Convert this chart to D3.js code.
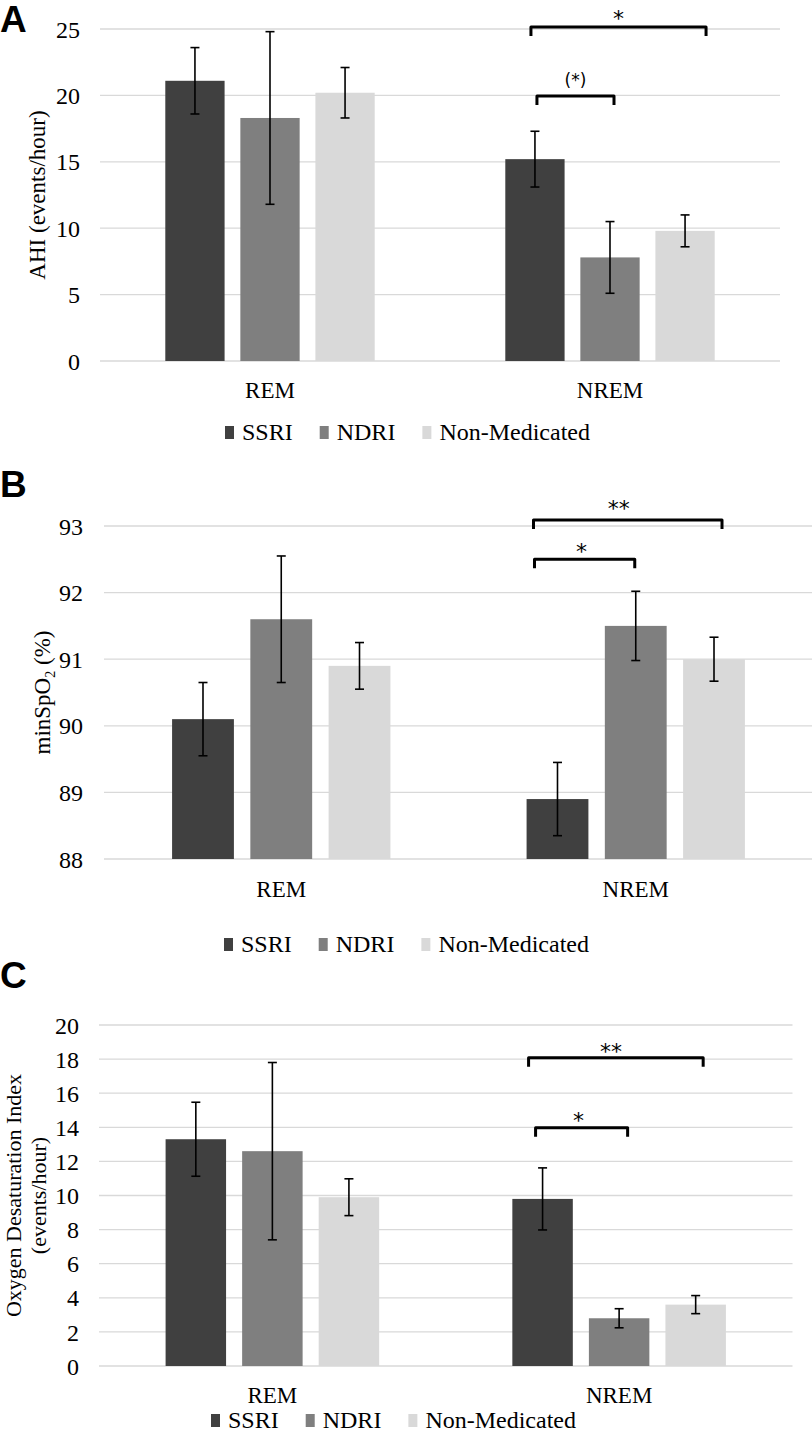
<!DOCTYPE html>
<html>
<head>
<meta charset="utf-8">
<script src="https://cdn.jsdelivr.net/npm/d3@7"></script>
<style>
  body { margin: 0; background: #fff; }
</style>
</head>
<body>
<div id="main"></div>
<script>
// categories and groups
const stages = ["REM", "NREM"];
const groups = ["SSRI", "NDRI", "Non-Medicated"];
const colors = ["#404040", "#7f7f7f", "#d9d9d9"];

// panel A - AHI (events/hour), rows = stage, cols = group
const ahiMean = [[21.1, 18.3, 20.2], [15.2, 7.8, 9.8]];
const ahiErr  = [[2.5, 6.5, 1.9], [2.1, 2.7, 1.2]];
const ahiTicks = [0, 5, 10, 15, 20, 25];

// panel B - minSpO2 (%)
const spoMean = [[90.1, 91.6, 90.9], [88.9, 91.5, 91.0]];
const spoErr  = [[0.55, 0.95, 0.35], [0.55, 0.52, 0.33]];
const spoTicks = [88, 89, 90, 91, 92, 93];

// panel C - oxygen desaturation index
const odiMean = [[13.3, 12.6, 9.9], [9.8, 2.8, 3.6]];
const odiErr  = [[2.17, 5.2, 1.08], [1.82, 0.56, 0.53]];
const odiTicks = [0, 2, 4, 6, 8, 10, 12, 14, 16, 18, 20];

// significance brackets (y in data units)
const ahiSig = [
  {stage: "NREM", from: "SSRI", to: "Non-Medicated", y: 25.15, label: "*"},
  {stage: "NREM", from: "SSRI", to: "NDRI", y: 19.95, label: "(*)"}
];
const spoSig = [
  {stage: "NREM", from: "SSRI", to: "Non-Medicated", y: 93.09, label: "**"},
  {stage: "NREM", from: "SSRI", to: "NDRI", y: 92.5, label: "*"}
];
const odiSig = [
  {stage: "NREM", from: "SSRI", to: "Non-Medicated", y: 18.08, label: "**"},
  {stage: "NREM", from: "SSRI", to: "NDRI", y: 13.98, label: "*"}
];

const W = 812, H = 1433;
const SERIF = '"Liberation Serif", "Times New Roman", serif';

const svg = d3.select('#main').append('svg')
  .attr('width', W).attr('height', H)
  .attr('font-family', SERIF);

function drawPanel(p){
  const g = svg.append('g');

  // panel letter
  g.append('text').text(p.letter)
    .attr('x', 0).attr('y', p.letterY)
    .style('font-family', '"Liberation Sans", Arial, sans-serif')
    .style('font-weight', 'bold').style('font-size', '37px');

  const yScale = d3.scaleLinear().domain(p.domain).range([p.yBot, p.yTop]);
  const xScale = d3.scaleBand().domain(stages).range([p.x0, p.x1]);
  const xInner = d3.scaleBand().domain(groups).range([0, xScale.bandwidth()])
    .paddingInner(0.21).paddingOuter(0.87);

  // gridlines
  g.append('g').selectAll('line').data(p.ticks).enter().append('line')
    .attr('x1', p.x0).attr('x2', p.x1)
    .attr('y1', d => yScale(d)).attr('y2', d => yScale(d))
    .attr('stroke', '#d9d9d9').attr('stroke-width', 1.3);

  // y axis labels
  const yAxis = d3.axisLeft(yScale).tickValues(p.ticks).tickFormat(d3.format('d'))
    .tickSize(0).tickPadding(0);
  const ya = g.append('g').attr('transform', 'translate(' + p.labelX + ',0)').call(yAxis)
    .attr('font-family', SERIF).attr('font-size', 24);
  ya.select('.domain').remove();
  ya.selectAll('text').attr('dy', '0.34em').attr('fill', '#000')
    .style('font-family', SERIF).style('font-size', '24px');

  // x axis labels
  const xAxis = d3.axisBottom(xScale).tickSize(0).tickPadding(0);
  const xa = g.append('g').attr('transform', 'translate(0,' + p.catY + ')').call(xAxis)
    .attr('font-family', SERIF).attr('font-size', 23);
  xa.select('.domain').remove();
  xa.selectAll('text').attr('dy', 0).attr('y', 0).attr('fill', '#000')
    .style('font-family', SERIF).style('font-size', '23px');

  // bars
  const rows = [];
  stages.forEach((s, i) => groups.forEach((gr, j) => {
    rows.push({stage: s, group: gr, mean: p.mean[i][j], err: p.err[i][j], c: colors[j]});
  }));
  const bx = d => xScale(d.stage) + xInner(d.group);
  const bw = xInner.bandwidth();

  g.append('g').selectAll('rect').data(rows).enter().append('rect')
    .attr('x', bx).attr('width', bw)
    .attr('y', d => yScale(d.mean))
    .attr('height', d => yScale(p.domain[0]) - yScale(d.mean))
    .attr('fill', d => d.c);

  // error bars
  const eb = g.append('g').attr('stroke', '#000').attr('stroke-width', 1.6);
  rows.forEach(d => {
    const cx = bx(d) + bw / 2;
    const yt = yScale(d.mean + d.err), yb = yScale(d.mean - d.err);
    eb.append('line').attr('x1', cx).attr('x2', cx).attr('y1', yt).attr('y2', yb);
    eb.append('line').attr('x1', cx - 4.5).attr('x2', cx + 4.5).attr('y1', yt).attr('y2', yt);
    eb.append('line').attr('x1', cx - 4.5).attr('x2', cx + 4.5).attr('y1', yb).attr('y2', yb);
  });

  // significance brackets
  p.sig.forEach((s, k) => {
    const off = p.sigOff[k];
    const xl = xScale(s.stage) + xInner(s.from) + bw / 2 + off[0];
    const xr = xScale(s.stage) + xInner(s.to) + bw / 2 + off[1];
    const yy = yScale(s.y);
    g.append('path')
      .attr('d', 'M' + xl + ',' + (yy + 9) + 'V' + yy + 'H' + xr + 'V' + (yy + 9))
      .attr('fill', 'none').attr('stroke', '#000').attr('stroke-width', 3)
      .attr('stroke-linejoin', 'round');
    const isParen = s.label.indexOf('(') >= 0;
    g.append('text').text(s.label)
      .attr('x', (xl + xr) / 2 + off[2]).attr('y', yy + off[3])
      .attr('text-anchor', 'middle')
      .style('font-family', '"DejaVu Sans", sans-serif')
      .style('font-size', isParen ? '17px' : '22px');
  });

  // y axis title
  const cy = (p.yTop + p.yBot) / 2;
  p.title.forEach((line, k) => {
    const t = g.append('text')
      .attr('transform', 'translate(' + p.titleX[k] + ',' + cy + ') rotate(-90)')
      .attr('text-anchor', 'middle')
      .style('font-family', SERIF)
      .style('font-size', p.titleFont + 'px');
    line.forEach(part => {
      const ts = t.append('tspan').text(part.t);
      if (part.sub) ts.style('font-size', '14px').attr('dy', '5');
      if (part.up) ts.attr('dy', '-5');
    });
  });

  // legend
  const leg = g.append('g');
  let lx = p.legX;
  groups.forEach((gr, j) => {
    leg.append('rect').attr('x', lx).attr('y', p.legY - 14)
      .attr('width', 9).attr('height', 13).attr('fill', colors[j]);
    const t = leg.append('text').text(gr).attr('x', lx + 17).attr('y', p.legY)
      .style('font-family', SERIF)
      .style('font-size', p.legFont + 'px');
    lx += 17 + t.node().getComputedTextLength() + p.legGap;
  });
}

drawPanel({
  letter: 'A', letterY: 32, domain: [0, 25], ticks: ahiTicks,
  mean: ahiMean, err: ahiErr, sig: ahiSig,
  sigOff: [[-4, 21, 0, -1], [2, 4, 0, -10]],
  x0: 100, x1: 780, yTop: 29, yBot: 361, labelX: 80, catY: 398,
  title: [[{t: 'AHI (events/hour)'}]], titleX: [45], titleFont: 23,
  legX: 225, legY: 440, legFont: 24, legGap: 27
});

drawPanel({
  letter: 'B', letterY: 497, domain: [88, 93], ticks: spoTicks,
  mean: spoMean, err: spoErr, sig: spoSig,
  sigOff: [[-24, 8, -9, -4], [-23, -1, -3, 0]],
  x0: 104, x1: 813, yTop: 526, yBot: 859, labelX: 83, catY: 897,
  title: [[{t: 'minSpO'}, {t: '2', sub: true}, {t: ' (%)', up: true}]], titleX: [50], titleFont: 23,
  legX: 224, legY: 952, legFont: 24, legGap: 27
});

drawPanel({
  letter: 'C', letterY: 988, domain: [0, 20], ticks: odiTicks,
  mean: odiMean, err: odiErr, sig: odiSig,
  sigOff: [[-14, 7.5, -5, 1], [-7, 8.5, -3, 0]],
  x0: 99, x1: 792.5, yTop: 1025, yBot: 1366, labelX: 79, catY: 1403,
  title: [[{t: 'Oxygen Desaturation Index'}], [{t: '(events/hour)'}]], titleX: [21, 46], titleFont: 22,
  legX: 211, legY: 1428, legFont: 24, legGap: 27
});
</script>
</body>
</html>
